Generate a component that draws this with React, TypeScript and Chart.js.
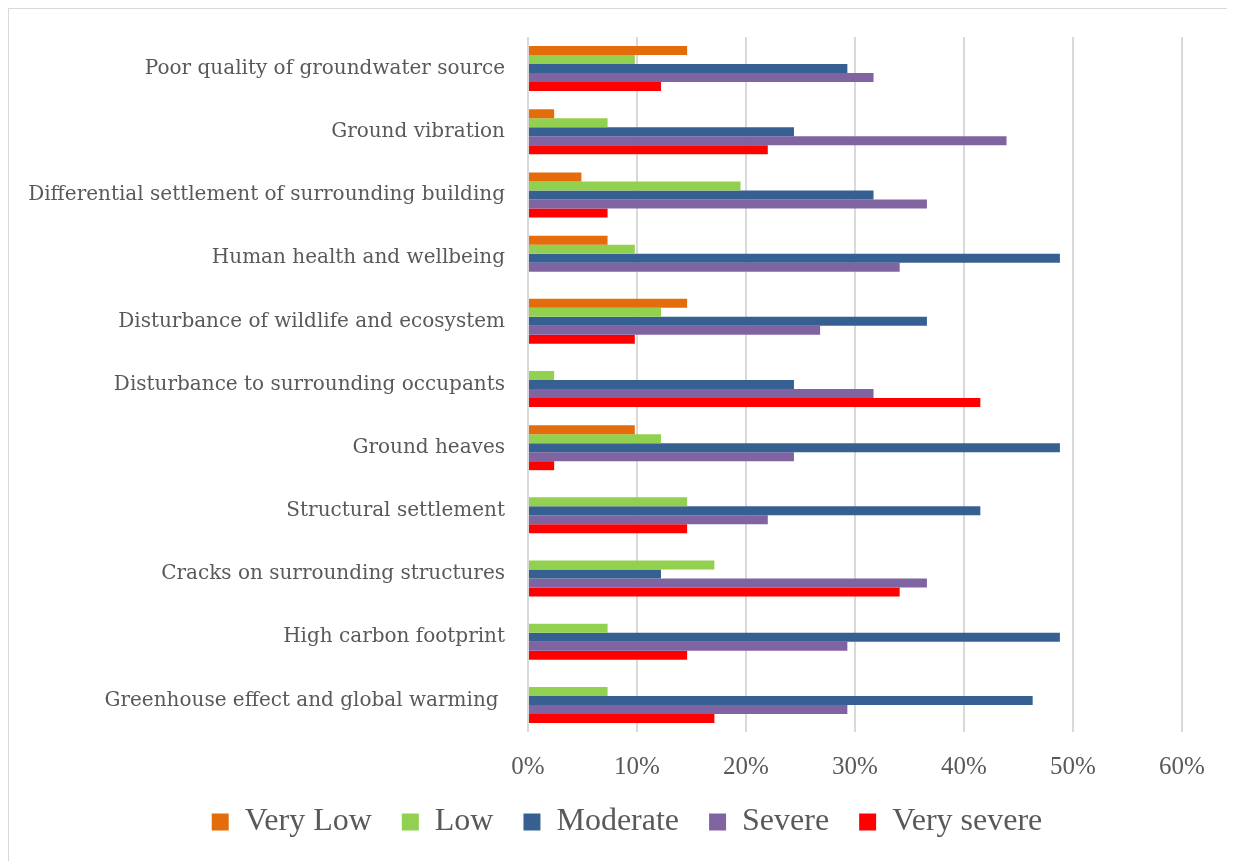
import React, { useEffect, useRef } from "react";
import { Chart, registerables } from "chart.js";

Chart.register(...registerables);

const categories = [
  "Poor quality of groundwater source",
  "Ground vibration",
  "Differential settlement of surrounding building",
  "Human health and wellbeing",
  "Disturbance of wildlife and ecosystem",
  "Disturbance to surrounding occupants",
  "Ground heaves",
  "Structural settlement",
  "Cracks on surrounding structures",
  "High carbon footprint",
  "Greenhouse effect and global warming ",
];

const veryLow = [14.6, 2.4, 4.9, 7.3, 14.6, 0, 9.8, 0, 0, 0, 0];
const low = [9.8, 7.3, 19.5, 9.8, 12.2, 2.4, 12.2, 14.6, 17.1, 7.3, 7.3];
const moderate = [29.3, 24.4, 31.7, 48.8, 36.6, 24.4, 48.8, 41.5, 12.2, 48.8, 46.3];
const severe = [31.7, 43.9, 36.6, 34.1, 26.8, 31.7, 24.4, 22.0, 36.6, 29.3, 29.3];
const verySevere = [12.2, 22.0, 7.3, 0, 9.8, 41.5, 2.4, 14.6, 34.1, 14.6, 17.1];

const seriesNames = ["Very Low", "Low", "Moderate", "Severe", "Very severe"];
const seriesColors = ["#E46C0A", "#92D050", "#366092", "#8064A2", "#FF0000"];
const xTicks = [0, 10, 20, 30, 40, 50, 60];

const FONT = "'Liberation Serif', 'Times New Roman', serif";
const CAT_FONT = "'DejaVu Serif', serif";
const TEXT = "#595959";

export default function App() {
  const ref = useRef<HTMLCanvasElement | null>(null);

  useEffect(() => {
    if (!ref.current) return;
    const values = [veryLow, low, moderate, severe, verySevere];
    const chart = new Chart(ref.current, {
      type: "bar",
      data: {
        labels: categories,
        datasets: seriesNames.map((name, i) => ({
          label: name,
          data: values[i],
          backgroundColor: seriesColors[i],
          borderWidth: 0,
          categoryPercentage: 0.712,
          barPercentage: 1,
        })),
      },
      options: {
        indexAxis: "y",
        animation: false,
        responsive: false,
        maintainAspectRatio: false,
        layout: { padding: { top: 28, right: 51, left: 63, bottom: 14 } },
        plugins: {
          tooltip: { enabled: false },
          legend: {
            position: "bottom",
            labels: {
              font: { family: FONT, size: 32 },
              color: TEXT,
              boxWidth: 17,
              boxHeight: 17,
              padding: 30,
            },
          },
        },
        scales: {
          x: {
            min: 0,
            max: 60,
            afterBuildTicks: (s: any) => {
              s.ticks = xTicks.map((v) => ({ value: v }));
            },
            afterFit: (s: any) => {
              s.height = 44;
              s._computeLabelArea = () => undefined;
            },
            grid: { color: "#D9D9D9", lineWidth: 2, drawTicks: false },
            border: { display: false },
            ticks: {
              font: { family: FONT, size: 25 },
              color: TEXT,
              padding: 20,
              callback: (v: any) => v + "%",
            },
          },
          y: {
            afterFit: (s: any) => {
              s.width = 456;
              s.paddingTop = 0;
              s.paddingBottom = 0;
              s._computeLabelArea = () => undefined;
            },
            grid: { display: false, drawTicks: false },
            border: { display: false },
            ticks: {
              font: { family: CAT_FONT, size: 20 },
              color: TEXT,
              padding: 23,
              autoSkip: false,
            },
          },
        },
      },
    });
    return () => chart.destroy();
  }, []);

  return (
    <div
      style={{
        width: 1224,
        height: 853,
        border: "1px solid #D9D9D9",
        background: "#fff",
      }}
    >
      <canvas ref={ref} width={1224} height={853} style={{ display: "block" }} />
    </div>
  );
}
